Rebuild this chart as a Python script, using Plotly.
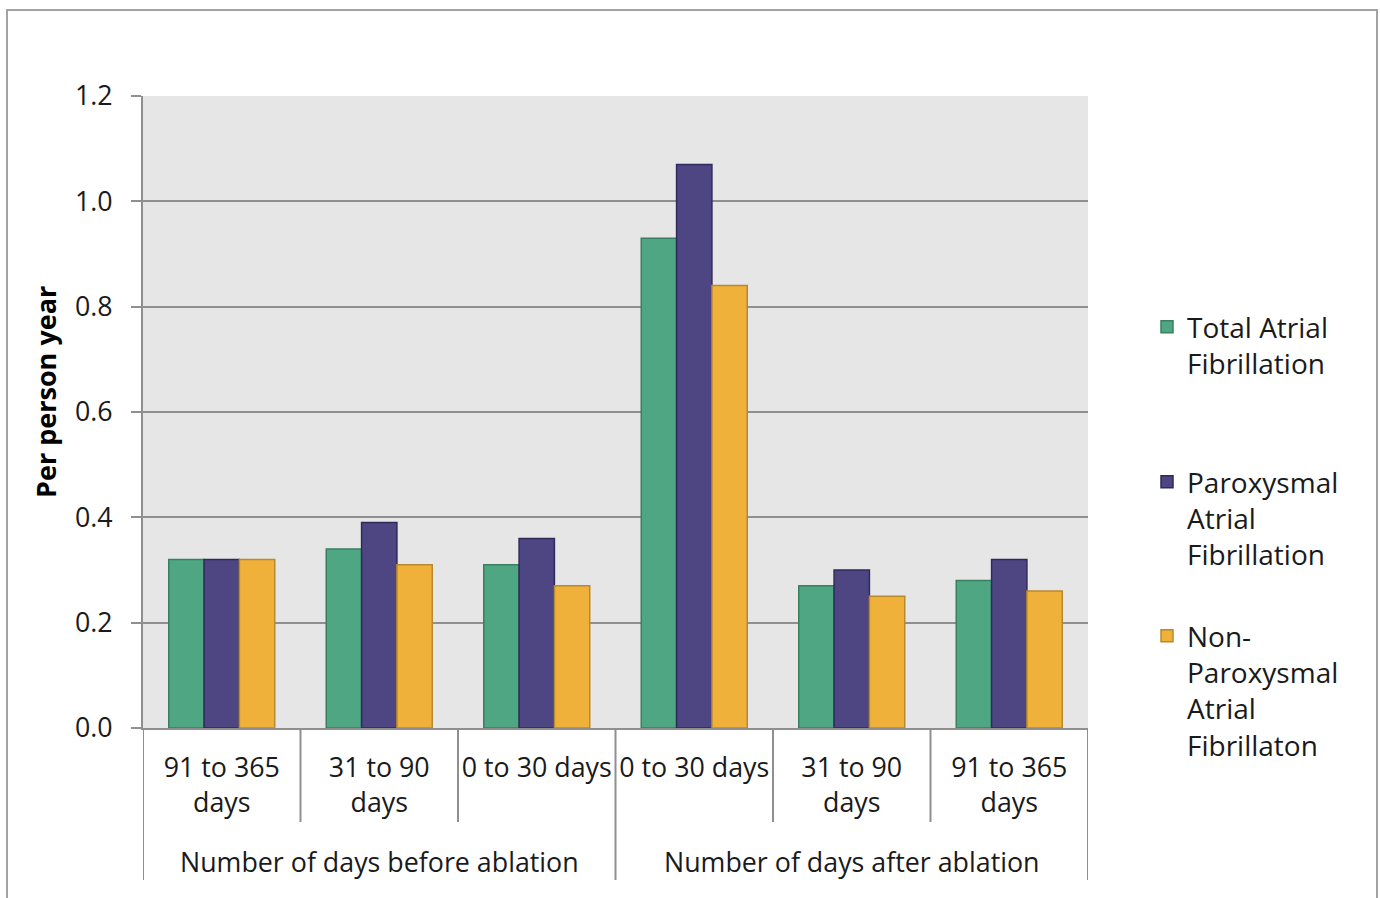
import plotly.graph_objects as go

# Category ticks (positions 0..5) and their labels
tick_labels = ["91 to 365<br>days", "31 to 90<br>days", "0 to 30 days",
               "0 to 30 days", "31 to 90<br>days", "91 to 365<br>days"]
group_labels = ["Number of days before ablation", "Number of days after ablation"]

# Rates per person year
total_af = [0.32, 0.34, 0.31, 0.93, 0.27, 0.28]
paroxysmal_af = [0.32, 0.39, 0.36, 1.07, 0.30, 0.32]
non_paroxysmal_af = [0.32, 0.31, 0.27, 0.84, 0.25, 0.26]

series_names = ["Total Atrial<br>Fibrillation",
                "Paroxysmal<br>Atrial<br>Fibrillation",
                "Non-<br>Paroxysmal<br>Atrial<br>Fibrillaton"]
series_values = [total_af, paroxysmal_af, non_paroxysmal_af]
fill_colors = ["#4fa683", "#4e4682", "#f0b13b"]
edge_colors = ["#3b7f62", "#2f2a5c", "#b88a2e"]

FONT = "Open Sans"
FS = 26.8
LEG_FS = 28
GRID = "#8f8f8f"
x_pos = list(range(len(tick_labels)))

# plot area in pixels: x 143..1088, y 96..728
W, H = 1380, 898
L, R, T, B = 143, 292, 96, 170
pw, ph = W - L - R, H - T - B


def px_x(px):
    return (px - L) / pw


def px_y(py):
    return (H - B - py) / ph


fig = go.Figure()
legend_keys = ["legend", "legend2", "legend3"]
for name, vals, fc, ec, lg in zip(series_names, series_values, fill_colors,
                                   edge_colors, legend_keys):
    fig.add_trace(go.Bar(
        x=x_pos, y=vals, name=name, legend=lg,
        marker=dict(color=fc, line=dict(color=ec, width=1.5)),
        hoverinfo="y",
    ))

legend_tops = [302, 457, 611]
legend_common = dict(
    x=px_x(1147), xanchor="left", yanchor="top",
    bgcolor="rgba(0,0,0,0)", borderwidth=0, valign="top",
    font=dict(family=FONT, size=LEG_FS, color="#1a1a1a"),
)
legend_layout = {}
for key, top in zip(legend_keys, legend_tops):
    legend_layout[key] = dict(y=px_y(top), **legend_common)

shapes = []
# outer chart border
shapes.append(dict(type="rect", xref="paper", yref="paper",
                   x0=px_x(7), x1=px_x(1377), y0=px_y(1000), y1=px_y(10),
                   line=dict(color="#a3a3a3", width=2), fillcolor="rgba(0,0,0,0)",
                   layer="below"))
# category dividers below the x axis
for b in [i - 0.5 for i in range(len(tick_labels) + 1)]:
    long = b in (-0.5, 2.5, 5.5)
    shapes.append(dict(type="line", xref="x", yref="paper", x0=b, x1=b,
                       y0=0, y1=px_y(880 if long else 822),
                       line=dict(color=GRID, width=2)))

annotations = []
for xc, txt in zip([1, 4], group_labels):
    annotations.append(dict(x=xc, y=px_y(861), xref="x", yref="paper",
                            text=txt, showarrow=False, yanchor="middle",
                            font=dict(family=FONT, size=FS, color="#1a1a1a")))
# y-axis title
annotations.append(dict(x=px_x(45), y=px_y(392), xref="paper", yref="paper",
                        text="<b>Per person year</b>", textangle=-90,
                        showarrow=False, xanchor="center", yanchor="middle",
                        font=dict(family=FONT, size=27, color="#000000")))

fig.update_layout(
    width=W, height=H,
    margin=dict(l=L, r=R, t=T, b=B, autoexpand=False),
    paper_bgcolor="white", plot_bgcolor="#e6e6e6",
    barmode="group", bargap=0.327, bargroupgap=0,
    font=dict(family=FONT, size=FS, color="#1a1a1a"),
    showlegend=True,
    shapes=shapes, annotations=annotations,
    **legend_layout,
)
fig.update_xaxes(
    range=[-0.5, 5.5], tickmode="array", tickvals=x_pos, ticktext=tick_labels,
    showgrid=False, zeroline=False, showline=True, linecolor=GRID, linewidth=2,
    ticks="", ticklabelstandoff=15, tickfont=dict(family=FONT, size=FS),
)
fig.update_yaxes(
    range=[0, 1.2], dtick=0.2, tickformat=".1f",
    showgrid=True, gridcolor=GRID, gridwidth=2, zeroline=False,
    showline=True, linecolor=GRID, linewidth=2,
    ticks="outside", ticklen=10, tickcolor=GRID, tickwidth=2,
    ticklabelstandoff=13, tickfont=dict(family=FONT, size=FS),
)

fig.write_html("out.html")
